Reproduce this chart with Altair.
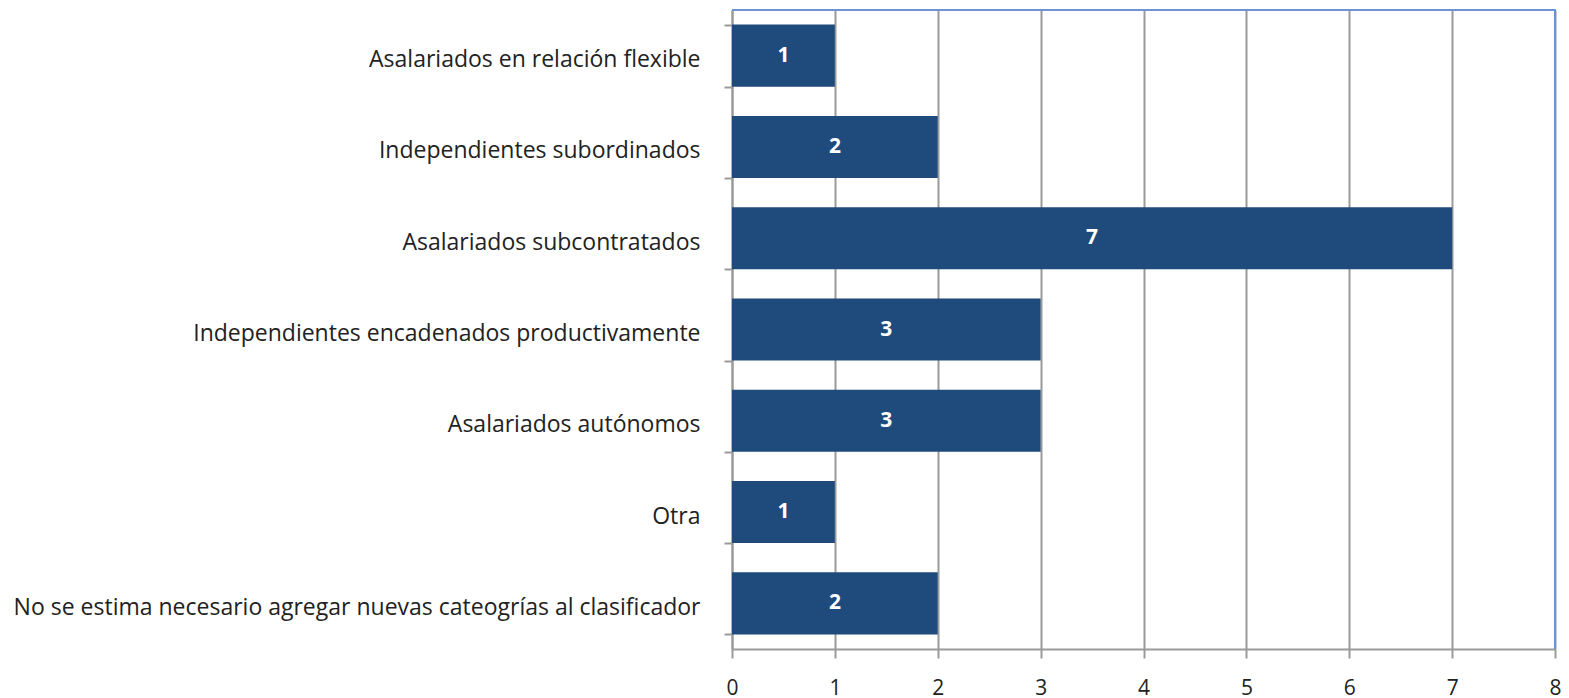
import altair as alt
import pandas as pd

categories = [
    "Asalariados en relación flexible",
    "Independientes subordinados",
    "Asalariados subcontratados",
    "Independientes encadenados productivamente",
    "Asalariados autónomos",
    "Otra",
    "No se estima necesario agregar nuevas cateogrías al clasificador",
]
values = [1, 2, 7, 3, 3, 1, 2]
x_ticks = [0, 1, 2, 3, 4, 5, 6, 7, 8]

df = pd.DataFrame({"cat": categories, "val": values})

FONT = "Open Sans"
GRAY = "#9a9a9a"
BLUE_BORDER = "#6A95D0"
W, H = 823, 639

y_enc = alt.Y(
    "cat:N",
    sort=categories,
    title=None,
    scale=alt.Scale(paddingInner=0.32, paddingOuter=0.16),
    axis=alt.Axis(
        tickBand="extent",
        tickSize=8,
        tickColor=GRAY,
        tickWidth=2,
        domainColor=GRAY,
        domainWidth=2,
        labelPadding=24,
        labelOffset=4,
        labelFont=FONT,
        labelFontSize=23,
        labelColor="#222222",
        labelLimit=800,
        grid=False,
    ),
)

x_enc = alt.X(
    "val:Q",
    title=None,
    scale=alt.Scale(domain=[0, 8], nice=False),
    axis=alt.Axis(
        values=x_ticks,
        format="d",
        tickSize=9,
        tickColor=GRAY,
        tickWidth=2,
        domainColor=GRAY,
        domainWidth=2,
        gridColor=GRAY,
        gridWidth=2,
        gridOpacity=1,
        labelPadding=19,
        labelFont=FONT,
        labelFontSize=21,
        labelColor="#222222",
        labelFlush=False,
    ),
)

bars = alt.Chart(df).mark_bar(color="#1F4A7C").encode(x=x_enc, y=y_enc)

text = alt.Chart(df).mark_text(
    color="white", font=FONT, fontSize=21, fontWeight="bold", baseline="middle", align="center"
).encode(
    x=alt.X("mid:Q", scale=alt.Scale(domain=[0, 8], nice=False)),
    y=alt.Y("cat:N", sort=categories),
    text=alt.Text("val:Q", format="d"),
).transform_calculate(mid="datum.val / 2")

top_border = alt.Chart(df).mark_rule(color=BLUE_BORDER, strokeWidth=2).encode(
    x=alt.value(0), x2=alt.value(W + 1), y=alt.value(0)
)
right_border = alt.Chart(df).mark_rule(color=BLUE_BORDER, strokeWidth=2).encode(
    x=alt.value(W), y=alt.value(0), y2=alt.value(H)
)

chart = (
    alt.layer(bars, text, top_border, right_border)
    .properties(
        width=W,
        height=H,
        autosize=alt.AutoSizeParams(type="none"),
        padding={"left": 724, "top": 2, "right": 6, "bottom": 50},
    )
    .configure_view(stroke=None)
    .configure(background="white")
)

chart.save("out.html", embed_options={"renderer": "svg", "actions": False})
